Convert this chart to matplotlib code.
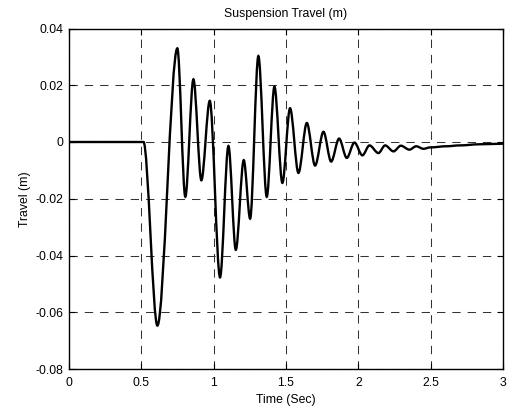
import matplotlib
matplotlib.use("Agg")
import matplotlib.pyplot as plt
from matplotlib.path import Path
from matplotlib.patches import PathPatch

# Extrema of the suspension travel trace (time s, travel m)
time_pts = [0.0, 0.515, 0.611, 0.749, 0.804, 0.860, 0.915, 0.973, 1.044, 1.102,
            1.153, 1.208, 1.252, 1.309, 1.367, 1.420, 1.475, 1.528, 1.586, 1.644,
            1.701, 1.759, 1.812, 1.867, 1.920, 1.973, 2.028, 2.077, 2.139, 2.185,
            2.243, 2.294, 2.353, 2.400, 2.450, 2.497, 2.61, 2.70, 2.84, 3.0]
travel_pts = [0.0, 0.0, -0.0647, 0.0330, -0.0193, 0.0221, -0.0135, 0.0145, -0.0477, -0.0014,
              -0.0380, -0.0064, -0.0270, 0.0303, -0.0193, 0.0195, -0.0144, 0.0119, -0.0109, 0.0067,
              -0.0083, 0.0036, -0.0069, 0.0012, -0.0056, -0.0002, -0.0047, -0.0012, -0.0039, -0.0012,
              -0.0033, -0.0013, -0.0027, -0.0015, -0.0024, -0.0019, -0.0015, -0.0012, -0.0008, -0.0006]

x_ticks = [0, 0.5, 1, 1.5, 2, 2.5, 3]
x_tick_labels = ["0", "0.5", "1", "1.5", "2", "2.5", "3"]
y_ticks = [-0.08, -0.06, -0.04, -0.02, 0, 0.02, 0.04]
y_tick_labels = ["-0.08", "-0.06", "-0.04", "-0.02", "0", "0.02", "0.04"]

plt.rcParams["font.family"] = ["Liberation Sans", "DejaVu Sans"]
plt.rcParams["font.size"] = 8.8

fig = plt.figure(figsize=(5.07, 4.08), dpi=100)
ax = fig.add_axes([69 / 507, 1 - 369 / 408, (503 - 69) / 507, (369 - 28.5) / 408])

# smooth curve through the extrema (horizontal tangents at each extremum)
h = 0.33
verts = [(time_pts[0], travel_pts[0])]
codes = [Path.MOVETO]
for i in range(len(time_pts) - 1):
    t0, v0 = time_pts[i], travel_pts[i]
    t1, v1 = time_pts[i + 1], travel_pts[i + 1]
    dt = t1 - t0
    verts += [(t0 + h * dt, v0), (t1 - h * dt, v1), (t1, v1)]
    codes += [Path.CURVE4] * 3
ax.add_patch(PathPatch(Path(verts, codes), fill=False, edgecolor="black",
                       linewidth=1.7, transform=ax.transData, zorder=3))

ax.set_xlim(0, 3)
ax.set_ylim(-0.08, 0.04)
ax.set_xticks(x_ticks)
ax.set_xticklabels(x_tick_labels)
ax.set_yticks(y_ticks)
ax.set_yticklabels(y_tick_labels)
ax.tick_params(direction="in", top=True, right=True, length=4, width=0.8)
ax.tick_params(axis="x", pad=6)
ax.tick_params(axis="y", pad=4)
ax.grid(True, color="0.2", linestyle=(0, (8, 6.7)), linewidth=0.75)
for s in ax.spines.values():
    s.set_linewidth(1.0)

ax.set_title("Suspension Travel (m)", fontsize=8.8, pad=8)
ax.set_xlabel("Time (Sec)", labelpad=3)
ax.set_ylabel("Travel (m)", labelpad=3)

fig.savefig("out.png", dpi=100)
